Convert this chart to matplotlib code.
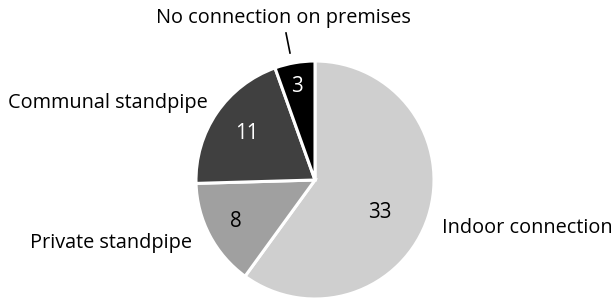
import numpy as np
import matplotlib
matplotlib.use("Agg")
import matplotlib.pyplot as plt

categories = ["Indoor connection", "Private standpipe", "Communal standpipe", "No connection on premises"]
values = [33, 8, 11, 3]
colors = ["#cfcfcf", "#a0a0a0", "#404040", "#000000"]
num_colors = ["black", "black", "white", "white"]

W, H = 613, 301
fig = plt.figure(figsize=(W / 100, H / 100), dpi=100)
ax = fig.add_axes([0, 0, 1, 1])

cx, cy, R = 315, H - 180, 119
wedges, _ = ax.pie(values, colors=colors, startangle=90, counterclock=False,
                   center=(cx, cy), radius=R, frame=True,
                   wedgeprops=dict(edgecolor="white", linewidth=2.2))
ax.set_xlim(0, W)
ax.set_ylim(0, H)
ax.set_aspect("equal")
ax.axis("off")

font = "Open Sans"
fs = 14.3
# value labels: (radius fraction, angle offset in deg)
num_pos = [(0.61, -9), (0.75, 0), (0.69, 0), (0.80, 1)]
for w, v, c, (rf, off) in zip(wedges, values, num_colors, num_pos):
    ang = np.deg2rad((w.theta1 + w.theta2) / 2 + off)
    ax.text(cx + rf * R * np.cos(ang), cy + rf * R * np.sin(ang), str(v),
            ha="center", va="center", fontsize=14.8, color=c, family=font)

# category labels (pixel positions, y from top)
lab_pos = [(442, 228, "left"), (192, 243, "right"), (208, 103, "right"), (283, 18, "center")]
for name, (x, y, ha) in zip(categories, lab_pos):
    ax.text(x, H - y, name, ha=ha, va="center", fontsize=fs, color="black", family=font)

ax.plot([286, 290], [H - 33, H - 53], color="black", linewidth=1.2)

fig.savefig("out.png", dpi=100, facecolor="white")
